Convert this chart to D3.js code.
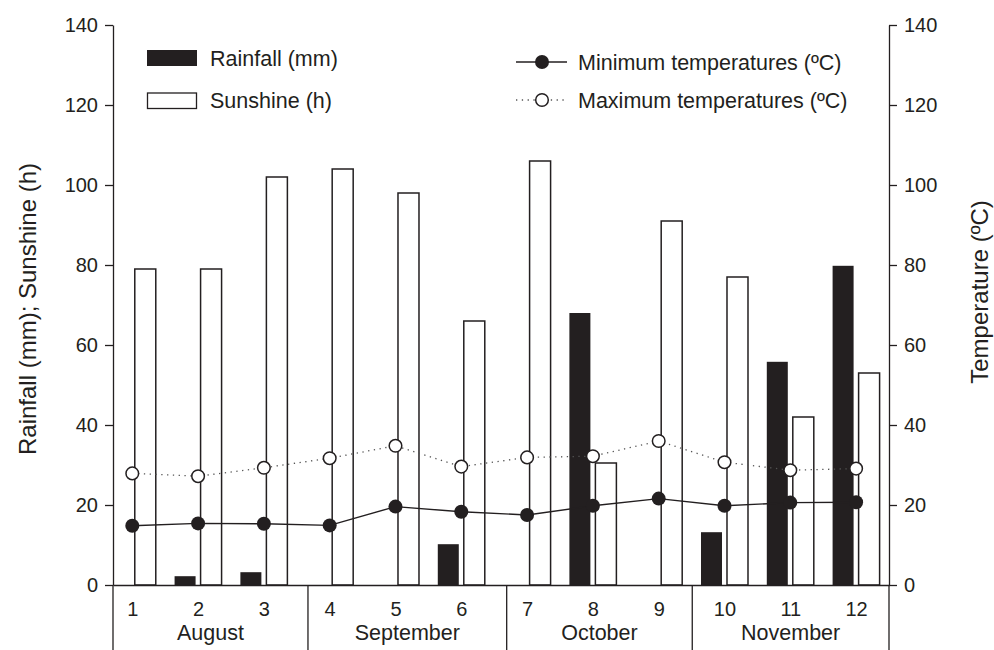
<!DOCTYPE html>
<html>
<head>
<meta charset="utf-8">
<script src="https://cdn.jsdelivr.net/npm/d3@7"></script>
<style>
  body { margin: 0; background: #fff; }
  svg text { font-family: "Liberation Sans", Arial, sans-serif; fill: #231f20; }
</style>
</head>
<body>
<div id="chart"></div>
<script>
// data
var periods = [1, 2, 3, 4, 5, 6, 7, 8, 9, 10, 11, 12];
var rainfall = [0, 2.2, 3.2, 0, 0, 10.2, 0, 68, 0, 13.2, 55.8, 79.8];
var sunshine = [79, 79, 102, 104, 98, 66, 106, 30.5, 91, 77, 42, 53];
var tempMin = [14.8, 15.4, 15.3, 14.9, 19.6, 18.3, 17.5, 19.8, 21.6, 19.8, 20.6, 20.7];
var tempMax = [27.9, 27.2, 29.3, 31.7, 34.8, 29.6, 31.9, 32.2, 36.0, 30.7, 28.7, 29.1];
var months = ["August", "September", "October", "November"];
var monthBounds = [0.707, 3.67, 6.69, 9.51, 12.5];
var yTicks = [0, 20, 40, 60, 80, 100, 120, 140];

var ink = "#231f20";
var W = 994, H = 650;

var svg = d3.select("#chart").append("svg")
  .attr("width", W)
  .attr("height", H);

var x = d3.scaleLinear().domain([0.707, 12.5]).range([113, 889]);
var y = d3.scaleLinear().domain([0, 140]).range([585, 25]);
var yT = d3.scaleLinear().domain([0, 140]).range([585, 25]);

var rows = periods.map(function(p, i) {
  return { p: p, rain: rainfall[i], sun: sunshine[i], tmin: tempMin[i], tmax: tempMax[i] };
});

// bars
var barW = 21;
svg.append("g").selectAll("rect.rain")
  .data(rows.filter(function(d) { return d.rain > 0; }))
  .enter().append("rect")
  .attr("class", "rain")
  .attr("x", function(d) { return x(d.p) - 2.5 - barW; })
  .attr("y", function(d) { return y(d.rain); })
  .attr("width", barW)
  .attr("height", function(d) { return y(0) - y(d.rain); })
  .attr("fill", ink);

svg.append("g").selectAll("rect.sun")
  .data(rows)
  .enter().append("rect")
  .attr("class", "sun")
  .attr("x", function(d) { return x(d.p) + 2.5; })
  .attr("y", function(d) { return y(d.sun); })
  .attr("width", barW)
  .attr("height", function(d) { return y(0) - y(d.sun); })
  .attr("fill", "#fff")
  .attr("stroke", ink)
  .attr("stroke-width", 1.5);

// axes
var leftAxis = svg.append("g")
  .attr("transform", "translate(113,0)")
  .call(d3.axisLeft(y).tickValues(yTicks).tickSize(8).tickSizeOuter(0).tickPadding(7));

var rightAxis = svg.append("g")
  .attr("transform", "translate(889,0)")
  .call(d3.axisRight(yT).tickValues(yTicks).tickSize(8).tickSizeOuter(0).tickPadding(7));

var bottomAxis = svg.append("g")
  .attr("transform", "translate(0,585)")
  .call(d3.axisBottom(x).tickValues(periods).tickSize(0).tickSizeOuter(0).tickPadding(17));

[leftAxis, rightAxis, bottomAxis].forEach(function(g) {
  g.selectAll("path, line").attr("stroke", ink).attr("stroke-width", 1.3);
  g.selectAll("text").style("font-size", "20px").attr("fill", ink);
});

// month boxes below the axis
svg.append("g").selectAll("line.sep")
  .data(monthBounds)
  .enter().append("line")
  .attr("x1", function(d) { return x(d); })
  .attr("x2", function(d) { return x(d); })
  .attr("y1", 585)
  .attr("y2", H)
  .attr("stroke", ink)
  .attr("stroke-width", 1.3);

svg.append("g").selectAll("text.month")
  .data(months)
  .enter().append("text")
  .attr("x", function(d, i) { return x((monthBounds[i] + monthBounds[i + 1]) / 2); })
  .attr("y", 639.5)
  .attr("text-anchor", "middle")
  .style("font-size", "21.5px")
  .text(function(d) { return d; });

// temperature lines
var lineMax = d3.line()
  .x(function(d) { return x(d.p); })
  .y(function(d) { return yT(d.tmax); });
var lineMin = d3.line()
  .x(function(d) { return x(d.p); })
  .y(function(d) { return yT(d.tmin); });

svg.append("path")
  .datum(rows)
  .attr("d", lineMax)
  .attr("fill", "none")
  .attr("stroke", "#555")
  .attr("stroke-width", 1.3)
  .attr("stroke-dasharray", "1.3,4.5");

svg.append("path")
  .datum(rows)
  .attr("d", lineMin)
  .attr("fill", "none")
  .attr("stroke", ink)
  .attr("stroke-width", 1.4);

svg.append("g").selectAll("circle.max")
  .data(rows)
  .enter().append("circle")
  .attr("cx", function(d) { return x(d.p); })
  .attr("cy", function(d) { return yT(d.tmax); })
  .attr("r", 6.3)
  .attr("fill", "#fff")
  .attr("stroke", ink)
  .attr("stroke-width", 1.5);

svg.append("g").selectAll("circle.min")
  .data(rows)
  .enter().append("circle")
  .attr("cx", function(d) { return x(d.p); })
  .attr("cy", function(d) { return yT(d.tmin); })
  .attr("r", 7)
  .attr("fill", ink);

// axis titles
svg.append("text")
  .attr("transform", "translate(36,309) rotate(-90)")
  .attr("text-anchor", "middle")
  .style("font-size", "24px")
  .text("Rainfall (mm); Sunshine (h)");

svg.append("text")
  .attr("transform", "translate(988,292) rotate(-90)")
  .attr("text-anchor", "middle")
  .style("font-size", "24px")
  .text("Temperature (ºC)");

// legend
var leg = svg.append("g");
leg.append("rect").attr("x", 147).attr("y", 50).attr("width", 50).attr("height", 16).attr("fill", ink);
leg.append("rect").attr("x", 147.5).attr("y", 93).attr("width", 49).attr("height", 15.5)
  .attr("fill", "#fff").attr("stroke", ink).attr("stroke-width", 1.3);
leg.append("text").attr("x", 210).attr("y", 65.5).style("font-size", "21.5px").text("Rainfall (mm)");
leg.append("text").attr("x", 210).attr("y", 108).style("font-size", "21.5px").text("Sunshine (h)");

leg.append("line").attr("x1", 516).attr("x2", 567).attr("y1", 62).attr("y2", 62)
  .attr("stroke", ink).attr("stroke-width", 1.4);
leg.append("circle").attr("cx", 542).attr("cy", 62).attr("r", 7).attr("fill", ink);
leg.append("line").attr("x1", 516).attr("x2", 567).attr("y1", 100).attr("y2", 100)
  .attr("stroke", "#555").attr("stroke-width", 1.3).attr("stroke-dasharray", "1.3,4.5");
leg.append("circle").attr("cx", 542).attr("cy", 100).attr("r", 6.3)
  .attr("fill", "#fff").attr("stroke", ink).attr("stroke-width", 1.5);
leg.append("text").attr("x", 578).attr("y", 69.5).style("font-size", "21.5px").text("Minimum temperatures (ºC)");
leg.append("text").attr("x", 578).attr("y", 107.5).style("font-size", "21.5px").text("Maximum temperatures (ºC)");
</script>
</body>
</html>
